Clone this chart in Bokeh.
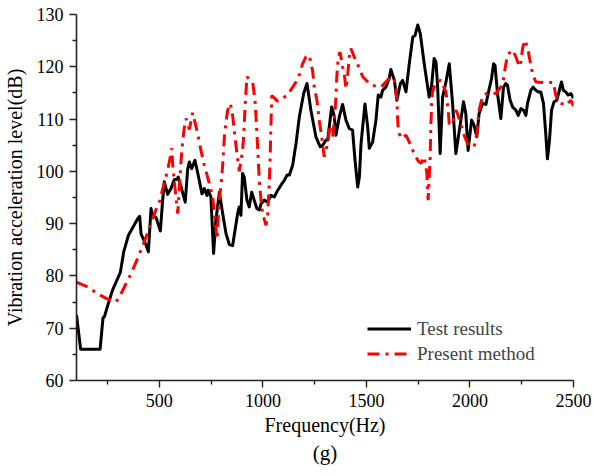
from bokeh.plotting import figure
from bokeh.models import FixedTicker, Legend, LegendItem, Title
from bokeh.embed import file_html
from bokeh.resources import INLINE

# Test results (black solid)
freq_test = [100, 120, 214, 228, 235, 248, 273, 312, 328, 351, 396, 405, 412, 436, 447, 460, 466, 484,
             505, 516, 524, 540, 556, 572, 585, 591, 605, 625, 637, 645, 656, 672, 688, 706, 717, 730,
             736, 749, 762, 773, 790, 806, 822, 838, 854, 878, 886, 894, 902, 910, 923, 934, 946, 958,
             971, 983, 991, 1007, 1023, 1039, 1055, 1072, 1088, 1104, 1117, 1128, 1144, 1160, 1176,
             1197, 1213, 1232, 1256, 1277, 1289, 1305, 1313, 1332, 1337, 1345, 1353, 1369, 1385, 1401,
             1417, 1433, 1445, 1458, 1466, 1474, 1493, 1506, 1514, 1530, 1546, 1557, 1570, 1578, 1594,
             1610, 1618, 1635, 1647, 1664, 1675, 1691, 1707, 1724, 1735, 1748, 1760, 1779, 1803, 1815,
             1827, 1836, 1844, 1856, 1868, 1884, 1900, 1916, 1932, 1956, 1969, 1980, 1991, 2008, 2020,
             2033, 2044, 2061, 2077, 2093, 2104, 2114, 2121, 2133, 2149, 2162, 2173, 2181, 2194, 2206,
             2222, 2233, 2246, 2259, 2270, 2278, 2294, 2305, 2318, 2330, 2342, 2355, 2366, 2374, 2384,
             2394, 2406, 2419, 2430, 2442, 2451, 2462, 2474, 2487, 2500]
level_test = [72.5, 66, 66, 72, 72.2, 74, 77.2, 80.7, 84.6, 87.8, 91, 91.4, 88, 85.9, 84.6, 92.9, 91.5, 91.2,
              88.6, 94.5, 98, 95.6, 96.7, 98.4, 98.5, 98.9, 97, 94.1, 100.5, 101.8, 100.5, 102.1, 99.2, 95.7,
              96.7, 95.4, 96.4, 95.1, 84.3, 90.6, 96, 91.9, 88.1, 86, 85.8, 91.9, 93.2, 91.6, 99.6, 98.9,
              94.5, 93.2, 96, 94.5, 92.9, 92.6, 93.8, 94.5, 94.1, 95.4, 95.1, 96.4, 97.4, 98.3, 99.3, 99.3,
              101.2, 105.3, 110.4, 114.9, 116.8, 111.7, 106.6, 104.7, 105, 106, 106, 112.3, 111.7, 110.4,
              106.9, 110.4, 112.8, 109.8, 108.2, 107.9, 102.1, 97, 98.9, 105.3, 112.9, 108.5, 104.4, 105.6,
              109.8, 114.6, 114.2, 115.5, 116.1, 117.8, 119.5, 117.4, 113.6, 116.8, 117.4, 115.2, 120.6,
              125.7, 126, 128, 126.4, 120.6, 114.2, 116.5, 121.6, 120.9, 116.1, 103.4, 114.2, 117.1, 120.6,
              113, 103.4, 109.8, 113.3, 111, 104, 109.8, 108.8, 106.6, 111, 113, 112.8, 115.8, 117.7, 120.6,
              120.3, 114.9, 110.1, 116.1, 116.8, 116.5, 113.6, 112.3, 111.7, 110.7, 112, 111.7, 110.7, 113,
              115.5, 116.1, 115.5, 115.2, 115.2, 113, 107.2, 102.4, 105.9, 111.7, 113.3, 113.6, 115.2, 117.1,
              115.5, 115.2, 114.6, 114.9, 114]

# Present method (red dash-dot)
freq_pm = [100, 154, 202, 243, 291, 315, 339, 363, 388, 412, 444, 468, 484, 500, 516, 540, 553, 560, 564,
           572, 580, 589, 597, 605, 613, 620, 629, 645, 661, 672, 685, 701, 717, 733, 746, 758, 766, 779,
           790, 798, 806, 814, 822, 830, 843, 854, 865, 875, 886, 902, 907, 914, 918, 923, 951, 962, 967,
           975, 983, 991, 999, 1015, 1023, 1031, 1036, 1040, 1043, 1072, 1120, 1171, 1192, 1208, 1224,
           1240, 1248, 1261, 1272, 1284, 1296, 1305, 1316, 1325, 1337, 1345, 1353, 1357, 1364, 1373, 1385,
           1393, 1401, 1409, 1417, 1425, 1441, 1466, 1482, 1522, 1570, 1618, 1635, 1642, 1647, 1651, 1654,
           1666, 1691, 1707, 1724, 1748, 1763, 1779, 1792, 1798, 1808, 1811, 1815, 1819, 1836, 1860, 1884,
           1889, 1895, 1900, 1916, 1932, 1940, 1956, 1972, 1988, 2020, 2033, 2044, 2061, 2085, 2125, 2157,
           2168, 2181, 2206, 2222, 2238, 2246, 2254, 2265, 2278, 2291, 2302, 2318, 2358, 2403, 2414, 2426,
           2462, 2487, 2500]
level_pm = [78.8, 77.9, 76.6, 75.7, 75, 76.6, 78.5, 80.4, 82.7, 85, 88.3, 91, 92.7, 94.1, 96.6, 100.2, 102.8,
            104.4, 101.5, 98.3, 95.1, 91.9, 97, 102.1, 105.9, 108.2, 110.1, 108, 111.2, 109.4, 107.2, 104,
            101.2, 98.9, 97, 95, 92, 87, 95, 97.3, 101.3, 106.5, 109.5, 111.7, 113, 110.7, 106.6, 103.4, 100,
            104, 106.6, 112.3, 114.9, 118.1, 117, 113.6, 110.4, 104.4, 98, 94.5, 91.9, 89.7, 91.6, 97.6, 104,
            110.4, 114.5, 113.4, 114.6, 117.8, 120.6, 121.9, 122.2, 119.3, 116.1, 113.6, 109.8, 106.6, 102.8,
            104, 106.3, 108.8, 106.6, 109.8, 114.2, 118.1, 121.9, 122.8, 120, 118.7, 115.8, 118.1, 121.9,
            123.5, 121.9, 119.7, 118.1, 116.5, 116.1, 118.1, 117.5, 115.8, 113.6, 109.8, 107.9, 106.3, 106.9,
            105.6, 104, 102.1, 101.5, 102.8, 99.6, 94.5, 102.8, 108.5, 113, 115.2, 117.1, 117.4, 115.2, 113.6,
            111.7, 109.1, 109.1, 111.7, 111, 109.1, 106.9, 105.3, 104.7, 107.2, 111.7, 114.4, 115, 114.9,
            116.5, 119.3, 122.3, 123.2, 121.9, 120, 120.9, 123.5, 125.1, 123.8, 120.9, 118.7, 117.1, 117, 117,
            114.6, 113.3, 112.6, 113.6, 112.5]

x_major = [500, 1000, 1500, 2000, 2500]
x_minor = [250, 750, 1250, 1750, 2250]
y_major = [60, 70, 80, 90, 100, 110, 120, 130]
y_minor = [65, 75, 85, 95, 105, 115, 125]

FONT = "Liberation Serif"

p = figure(width=594, height=476, output_backend="svg", toolbar_location=None,
           x_range=(100, 2500), y_range=(60, 130),
           min_border_left=76, min_border_right=21, min_border_top=14, min_border_bottom=96)
p.outline_line_color = None
p.grid.visible = False
p.background_fill_color = "white"
p.border_fill_color = "white"

r1 = p.line(freq_test, level_test, line_color="black", line_width=3, line_join="round")
r2 = p.line(freq_pm, level_pm, line_color="#ff0000", line_width=3, line_dash="12 6 3 6")

p.xaxis.ticker = FixedTicker(ticks=x_major, minor_ticks=x_minor)
p.yaxis.ticker = FixedTicker(ticks=y_major, minor_ticks=y_minor)

for ax in (p.xaxis[0], p.yaxis[0]):
    ax.axis_line_color = "#222222"
    ax.axis_line_width = 1.6
    ax.major_tick_line_color = "#222222"
    ax.minor_tick_line_color = "#222222"
    ax.major_tick_line_width = 1.4
    ax.minor_tick_line_width = 1.4
    ax.major_tick_out = 7
    ax.major_tick_in = 0
    ax.minor_tick_out = 4
    ax.minor_tick_in = 0
    ax.major_label_text_font = FONT
    ax.major_label_text_font_size = "18px"
    ax.major_label_text_color = "black"
    ax.axis_label_text_font = FONT
    ax.axis_label_text_font_size = "20px"
    ax.axis_label_text_font_style = "normal"
    ax.axis_label_text_color = "black"
    ax.major_label_standoff = 6

p.xaxis.axis_label = "Frequency(Hz)"
p.yaxis.axis_label = "Vibration acceleration level(dB)"
p.xaxis.axis_label_standoff = 4
p.yaxis.axis_label_standoff = 8

p.add_layout(Title(text="(g)", align="center", text_font=FONT, text_font_size="21px",
                   text_font_style="normal", text_color="black", standoff=0), "below")

legend = Legend(items=[LegendItem(label="Test results", renderers=[r1]),
                       LegendItem(label="Present method", renderers=[r2])],
                location=(291, 14), padding=0, spacing=0, margin=0,
                glyph_width=44, glyph_height=25, label_height=25, label_standoff=6,
                label_text_font=FONT, label_text_font_size="19px",
                background_fill_alpha=0, border_line_color=None)
p.add_layout(legend)

open("out.html", "w").write(file_html(p, INLINE))
